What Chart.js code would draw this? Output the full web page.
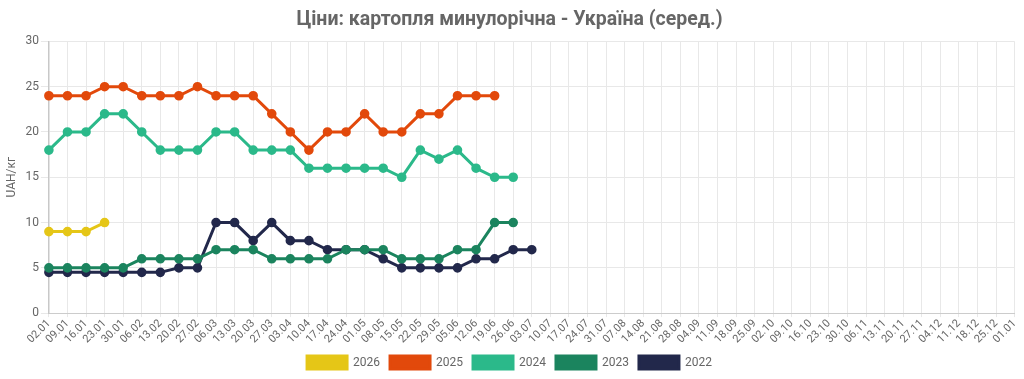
<!DOCTYPE html>
<html><head><meta charset="utf-8">
<script src="https://cdn.jsdelivr.net/npm/chart.js@4/dist/chart.umd.min.js"></script>
<style>html,body{margin:0;padding:0;background:#fff}#wrap{width:1024px;height:379px}</style>
</head><body><div id="wrap"><canvas id="c"></canvas></div>
<script>
const labels = ["02.01","09.01","16.01","23.01","30.01","06.02","13.02","20.02","27.02","06.03","13.03","20.03","27.03","03.04","10.04","17.04","24.04","01.05","08.05","15.05","22.05","29.05","05.06","12.06","19.06","26.06","03.07","10.07","17.07","24.07","31.07","07.08","14.08","21.08","28.08","04.09","11.09","18.09","25.09","02.10","09.10","16.10","23.10","30.10","06.11","13.11","20.11","27.11","04.12","11.12","18.12","25.12","01.01"];
const y2026 = [9,9,9,10];
const y2025 = [24,24,24,25,25,24,24,24,25,24,24,24,22,20,18,20,20,22,20,20,22,22,24,24,24];
const y2024 = [18,20,20,22,22,20,18,18,18,20,20,18,18,18,16,16,16,16,16,15,18,17,18,16,15,15];
const y2023 = [5,5,5,5,5,6,6,6,6,7,7,7,6,6,6,6,7,7,7,6,6,6,7,7,10,10];
const y2022 = [4.5,4.5,4.5,4.5,4.5,4.5,4.5,5,5,10,10,8,10,8,8,7,7,7,6,5,5,5,5,6,6,7,7];
const seriesNames = ["2026","2025","2024","2023","2022"];
const colors = ["#e5c617","#e2490b","#2bb98a","#1b845e","#22284b"];
const vals = [y2026,y2025,y2024,y2023,y2022];
const datasets = seriesNames.map((n,i)=>({
  label:n, data:vals[i], borderColor:colors[i], backgroundColor:colors[i],
  borderWidth:3, pointRadius:3.3, pointHoverRadius:4, tension:0, fill:false
}));
Chart.defaults.font.family = "Roboto, sans-serif";
Chart.defaults.color = "#666";
new Chart(document.getElementById('c'),{
  type:'line',
  data:{labels, datasets},
  options:{
    responsive:true, maintainAspectRatio:false, animation:false,
    layout:{padding:{left:1,right:6,top:0,bottom:0}},
    plugins:{
      title:{display:true,text:"Ціни: картопля минулорічна - Україна (серед.)",font:{size:19.5,weight:'bold'},color:'#666',padding:{top:8,bottom:10}},
      legend:{position:'bottom',labels:{boxWidth:40,boxHeight:13,padding:10,font:{size:12},color:'#666'}},
      tooltip:{enabled:false}
    },
    scales:{
      x:{grid:{color:'#e8e8e8',tickLength:4},border:{color:'#cccccc'},ticks:{maxRotation:45,minRotation:45,autoSkip:false,padding:0,font:{size:11},color:'#666'}},
      y:{min:0,max:30,ticks:{stepSize:5,padding:2,font:{size:12},color:'#666'},grid:{color:'#e8e8e8',tickLength:8},border:{color:'#c8c8c8',width:1.5},
         title:{display:true,text:'UAH/кг',font:{size:12},color:'#666'}}
    }
  }
});
</script></body></html>
